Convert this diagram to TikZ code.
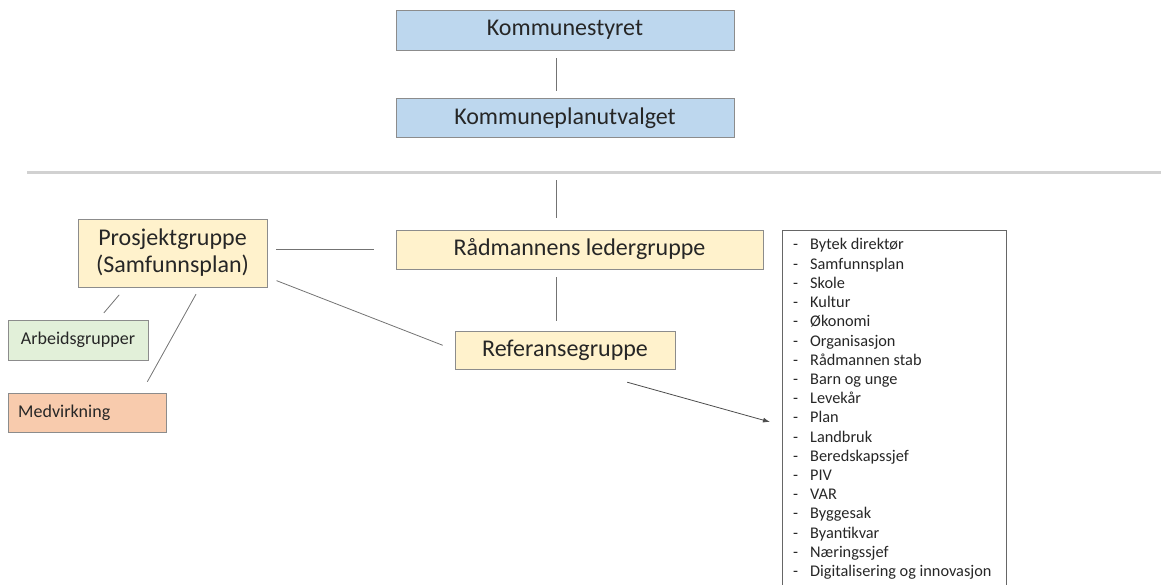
\documentclass[tikz,border=0pt]{standalone}
\usepackage{fontspec}
\setmainfont{Carlito}
\usetikzlibrary{positioning, arrows.meta, calc}
\definecolor{blaa}{HTML}{BDD7EE}
\definecolor{gul}{HTML}{FFF2CC}
\definecolor{gronn}{HTML}{E2F0D9}
\definecolor{oransje}{HTML}{F8CBAD}
\definecolor{kant}{HTML}{8C8C8C}

\begin{document}
\begin{tikzpicture}[
x=1pt, y=-1pt,
boks/.style={
draw=kant,
rectangle,
align=center,
inner sep=0pt,
text=black!85
},
stor/.style={font=\fontsize{24}{27}\selectfont},
liten/.style={font=\fontsize{18}{21}\selectfont},
punkt/.style={anchor=base west, inner sep=0pt, text=black!85, font=\fontsize{16.3}{19}\selectfont},
linje/.style={draw=black!55, line width=0.8pt}
]
\useasboundingbox (0,0) rectangle (1161,585);

% politisk nivaa
\node[boks, stor, fill=blaa, minimum width=338pt, minimum height=40pt] (kstyret) at (565,30) {Kommunestyret};
\node[boks, stor, fill=blaa, minimum width=338pt, minimum height=39pt] (kplan) at (565,118) {Kommuneplanutvalget};

% skillelinje
\draw[line width=3.5pt, draw=black!18] (27,172.5) -- (1161,172.5);
\coordinate (skille) at (556,172.5);

% administrativt nivaa
\node[boks, stor, fill=gul, minimum width=367pt, minimum height=39pt] (raad) at (579.5,249.5) {Rådmannens ledergruppe};
\node[boks, stor, fill=gul, minimum width=220pt, minimum height=38pt] (ref) at (565,350) {Referansegruppe};
\node[boks, stor, fill=gul, minimum width=189pt, minimum height=68pt] (prosj) at (172.5,253) {Prosjektgruppe\\(Samfunnsplan)};
\node[boks, liten, fill=gronn, minimum width=140pt, minimum height=40pt] (arb) at (78,340) {Arbeidsgrupper};
\node[boks, liten, fill=oransje, align=left, text width=138pt, inner xsep=10pt, minimum height=39pt, anchor=west] (medv) at (8,412.5) {Medvirkning};

% liste over medlemmer
\node[draw=black!60, minimum width=224pt, minimum height=370pt, anchor=north west, inner sep=0pt] (liste) at (782,230) {};
\foreach \navn [count=\i] in {Bytek direktør, Samfunnsplan, Skole, Kultur, Økonomi, Organisasjon, Rådmannen stab, Barn og unge, Levekår, Plan, Landbruk, Beredskapssjef, PIV, VAR, Byggesak, Byantikvar, Næringssjef, Digitalisering og innovasjon}
\node[punkt] (punkt\i) at ($(liste.north west)+(11,{0.8+19.2*\i})$) {\makebox[17pt][l]{-}\navn};

% forbindelser
\draw[linje, shorten <=8pt, shorten >=7pt] ([xshift=-9pt]kstyret.south) -- ([xshift=-9pt]kplan.north);
\draw[linje, shorten <=8pt, shorten >=12pt] (skille) -- (skille |- raad.north);
\draw[linje, shorten <=8pt, shorten >=10pt] (skille |- raad.south) -- (skille |- ref.north);
\draw[linje, shorten <=9pt, shorten >=22pt] (prosj.east |- raad.west) -- (raad.west);
\draw[linje, shorten <=10pt, shorten >=13pt] ($(prosj.east)+(0,24)$) -- (ref.west);
\draw[linje, shorten <=10pt, shorten >=9pt] ($(prosj.south)+(-46.8,0)$) -- ($(arb.north)+(20,0)$);
\draw[linje, shorten <=8pt, shorten >=12.6pt] ($(prosj.south)+(27.4,0)$) -- ($(medv.north)+(54,0)$);
\draw[linje, -{Latex[length=7pt, width=5pt]}, draw=black!70] ($(ref.south east)+(-48,13)$) -- ($(liste.north west)+(-12,192)$);
\end{tikzpicture}
\end{document}
